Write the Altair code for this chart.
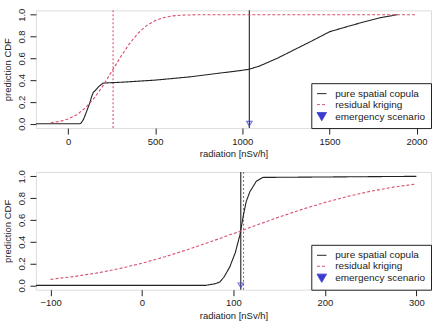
import altair as alt
import pandas as pd

# ---------------- data ----------------
# Top panel
top_cop_x = [-185, 67, 74, 80, 88, 96, 110, 124, 135, 145, 153, 175, 201, 300, 500, 700, 869, 1000, 1040,
             1100, 1200, 1300, 1400, 1500, 1600, 1700, 1800, 1890]
top_cop_y = [0.0, 0.0, 0.005, 0.02, 0.04, 0.07, 0.13, 0.19, 0.25, 0.29, 0.30, 0.34, 0.373, 0.38, 0.40, 0.43,
             0.464, 0.49, 0.50, 0.53, 0.60, 0.68, 0.76, 0.843, 0.89, 0.935, 0.975, 1.0]
top_krig_x = [-100, -50, 0, 50, 100, 150, 200, 250, 300, 350, 400, 450, 500, 550, 600, 650, 700, 750, 2000]
top_krig_y = [0.0085, 0.020, 0.043, 0.083, 0.146, 0.236, 0.349, 0.479, 0.610, 0.730, 0.828, 0.900, 0.947,
              0.974, 0.989, 0.9955, 0.998, 1.0, 1.0]
top_scenario = 1040
top_krig_median = 258

# Bottom panel
bot_cop_x = [-116, 70, 74, 80, 85, 90, 96, 102, 107, 111, 114, 118, 121, 125, 132, 300]
bot_cop_y = [0.0, 0.0, 0.006, 0.015, 0.03, 0.08, 0.17, 0.30, 0.46, 0.65, 0.77, 0.86, 0.90, 0.955, 0.99, 1.0]
bot_krig_x = [-100, -75, -50, -25, 0, 25, 50, 75, 100, 125, 150, 175, 200, 225, 250, 275, 300]
bot_krig_y = [0.055, 0.080, 0.112, 0.153, 0.203, 0.262, 0.328, 0.400, 0.475, 0.552, 0.627, 0.697, 0.760,
              0.816, 0.863, 0.901, 0.930]
bot_scenario = 108
bot_krig_median = 111

top_ticks = [0, 500, 1000, 1500, 2000]
bot_ticks = [-100, 0, 100, 200, 300]
y_ticks = [0.0, 0.2, 0.4, 0.6, 0.8, 1.0]

series = ["pure spatial copula", "residual kriging", "emergency scenario"]
colors = ["#222222", "#d8506e", "#3b3bd0"]
FONT = "Liberation Sans"


def panel(cop_x, cop_y, krig_x, krig_y, scen, med, ticks, xdom):
    lines = pd.DataFrame(
        {"x": cop_x + krig_x,
         "y": cop_y + krig_y,
         "s": [series[0]] * len(cop_x) + [series[1]] * len(krig_x)}
    )
    pts = pd.DataFrame({"x": [scen], "y": [0.0], "s": [series[2]]})
    x = alt.X("x:Q", scale=alt.Scale(domain=xdom, nice=False, zero=False),
              axis=alt.Axis(values=ticks, tickCount=len(ticks), format="d",
                            title="radiation [nSv/h]", grid=False, domain=False,
                            tickSize=6, tickColor="#222", labelPadding=2, titlePadding=3,
                            labelFontSize=9.5, titleFontSize=9.5, labelFont=FONT, titleFont=FONT,
                            labelColor="#222", titleColor="#222", titleFontWeight="normal",
                            labelFlush=False, labelOverlap=False))
    y = alt.Y("y:Q", scale=alt.Scale(domain=[-0.04, 1.04], nice=False, zero=False),
              axis=alt.Axis(values=y_ticks, tickCount=len(y_ticks), format=".1f",
                            title="prediction CDF", grid=False,
                            domain=False, tickSize=6, tickColor="#222", labelAngle=-90,
                            labelAlign="center", labelBaseline="bottom", labelPadding=3,
                            titlePadding=4, labelFontSize=9.5, titleFontSize=9.5,
                            labelFont=FONT, titleFont=FONT, labelColor="#222",
                            titleColor="#222", titleFontWeight="normal",
                            labelFlush=False, labelOverlap=False))
    col = alt.Color("s:N", scale=alt.Scale(domain=series, range=colors), title=None,
                    legend=alt.Legend(orient="bottom-right", offset=0, strokeColor="#222",
                                      fillColor="white", padding=5, rowPadding=0,
                                      labelFontSize=10, labelFont=FONT, labelColor="#222",
                                      labelOffset=8, symbolFillColor="transparent",
                                      symbolSize=90, symbolStrokeWidth=1, labelLimit=200,
                                      cornerRadius=0))
    dash = alt.StrokeDash("s:N", scale=alt.Scale(domain=series, range=[[1, 0], [3, 2], [1, 0]]))
    shape = alt.Shape("s:N", scale=alt.Scale(domain=series, range=["stroke", "stroke", "triangle-down"]))

    line_layer = alt.Chart(lines).mark_line(strokeWidth=1.1, clip=True).encode(
        x=x, y=y, color=col, strokeDash=dash, shape=shape, detail="s:N")
    rule_cop = alt.Chart(pd.DataFrame({"x": [scen]})).mark_rule(
        strokeWidth=1.1, color=colors[0]).encode(x="x:Q")
    rule_krig = alt.Chart(pd.DataFrame({"x": [med]})).mark_rule(
        strokeWidth=1.1, color=colors[1], strokeDash=[2, 2]).encode(x="x:Q")
    pt_layer = alt.Chart(pts).mark_point(filled=False, size=30, strokeWidth=1.1).encode(
        x="x:Q", y="y:Q", color=col, shape=shape, strokeDash=dash)
    return alt.layer(rule_cop, rule_krig, line_layer, pt_layer).properties(width=396, height=118)


top = panel(top_cop_x, top_cop_y, top_krig_x, top_krig_y, top_scenario, top_krig_median,
            top_ticks, [-185, 2083])
bot = panel(bot_cop_x, bot_cop_y, bot_krig_x, bot_krig_y, bot_scenario, bot_krig_median,
            bot_ticks, [-116, 316])

chart = alt.vconcat(top, bot, spacing=44, bounds="flush").resolve_scale(
    x="independent", color="independent", strokeDash="independent", shape="independent"
).resolve_legend(color="independent", shape="independent", strokeDash="independent").properties(
    padding={"left": 2, "top": 7, "right": 3, "bottom": 0},
).configure_view(stroke="#222", strokeWidth=1).configure(background="white")

chart.save("out.html", embed_options={"renderer": "svg", "actions": False})
